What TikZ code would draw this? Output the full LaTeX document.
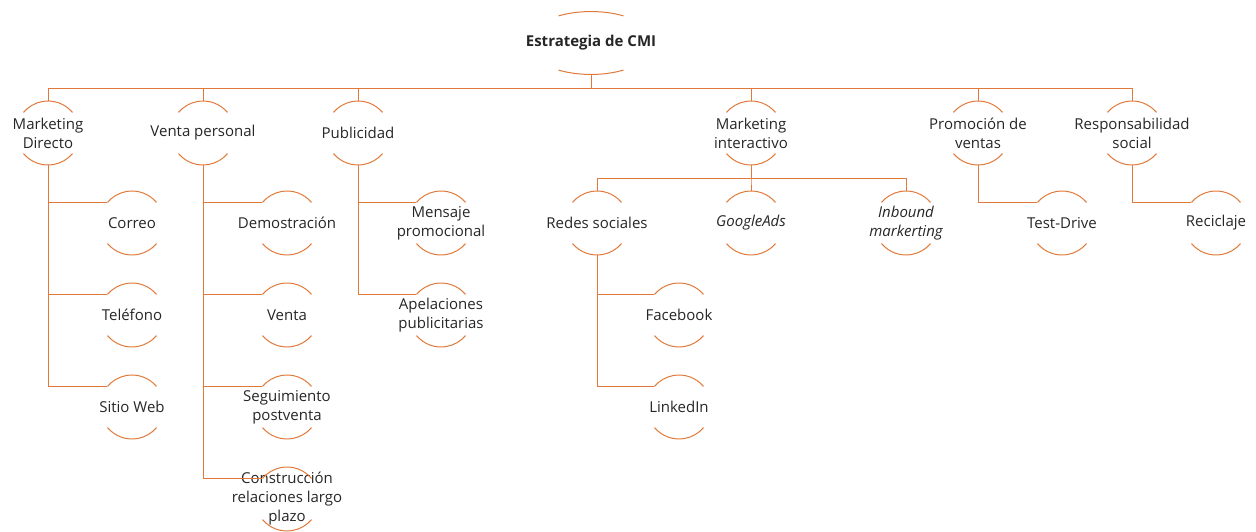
\documentclass[tikz,border=0pt]{standalone}
\usepackage{fontspec}
\setmainfont{Open Sans}
\usetikzlibrary{calc}
\definecolor{arcorange}{HTML}{E0793A}
\definecolor{txt}{HTML}{262626}
\begin{document}
\begin{tikzpicture}[x=1pt,y=1pt,
  lbl/.style={align=center,inner sep=0pt,text=txt,font=\fontsize{15}{19}\selectfont},
  rootlbl/.style={lbl,font=\fontsize{15}{19}\selectfont\bfseries},
  arcline/.style={draw=arcorange,line width=1pt},
  conn/.style={draw=arcorange,line width=1pt}]
\useasboundingbox (0,0) rectangle (1256,531);
% ---- helpers
\newcommand{\halfarcs}[1]{%
  \draw[arcline] ($(#1.center)+(40:32)$) arc[start angle=40,end angle=140,radius=32];
  \draw[arcline] ($(#1.center)+(220:32)$) arc[start angle=220,end angle=320,radius=32];}
% ---- root
\node[rootlbl] (root) at (591,488) {Estrategia de CMI};
\draw[arcline] ($(root.center)+(32.5,27.1)$) arc[start angle=59.5,end angle=120.5,x radius=64,y radius=31.5];
\draw[arcline] ($(root.center)+(-32.5,-27.1)$) arc[start angle=239.5,end angle=300.5,x radius=64,y radius=31.5];
% ---- level 1
\node[lbl] (md) at (48,398) {Marketing\\Directo};
\node[lbl] (vp) at (203,398) {Venta personal};
\node[lbl] (pub) at (358,398) {Publicidad};
\node[lbl] (mi) at (751,398) {Marketing\\interactivo};
\node[lbl] (pv) at (978,398) {Promoción de\\ventas};
\node[lbl] (rs) at (1132,398) {Responsabilidad\\social};
\foreach \n in {md,vp,pub,mi,pv,rs} {\halfarcs{\n}}
\foreach \n in {md,vp,pub,mi,pv,rs} {
  \draw[conn] ($(root.center)+(0,-31.5)$) -- ++(0,-14.5) -| ($(\n.center)+(0,32)$);}
% ---- Marketing Directo children
\node[lbl] (correo) at (132,308) {Correo};
\node[lbl] (tel) at (132,216) {Teléfono};
\node[lbl] (web) at (132,124) {Sitio Web};
% ---- Venta personal children
\node[lbl] (dem) at (287,308) {Demostración};
\node[lbl] (venta) at (287,216) {Venta};
\node[lbl] (seg) at (287,124) {Seguimiento\\postventa};
\node[lbl] (cons) at (287,32) {Construcción\\relaciones largo\\plazo};
% ---- Publicidad children
\node[lbl] (men) at (441,308) {Mensaje\\promocional};
\node[lbl] (ape) at (441,216) {Apelaciones\\publicitarias};
% ---- Marketing interactivo children
\node[lbl] (redes) at (597,308) {Redes sociales};
\node[lbl] (gads) at (751,308) {\itshape GoogleAds};
\node[lbl] (inb) at (906,308) {\itshape Inbound\\\itshape markerting};
% ---- Redes sociales children
\node[lbl] (fb) at (679,216) {Facebook};
\node[lbl] (li) at (679,124) {LinkedIn};
% ---- others
\node[lbl] (td) at (1062,308) {Test-Drive};
\node[lbl] (rec) at (1216,308) {Reciclaje};
\foreach \n in {correo,tel,web,dem,venta,seg,cons,men,ape,redes,gads,inb,fb,li,td,rec} {\halfarcs{\n}}
% ---- side connectors
\foreach \p/\c in {md/correo,md/tel,md/web,vp/dem,vp/venta,vp/seg,vp/cons,pub/men,pub/ape,redes/fb,redes/li,pv/td,rs/rec} {
  \draw[conn] ($(\p.center)+(0,-32)$) |- ($(\c.center)+(140:32)$);}
% ---- interactive sub-bus
\foreach \c in {redes,gads,inb} {
  \draw[conn] ($(mi.center)+(0,-32)$) -- ++(0,-14) -| ($(\c.center)+(0,32)$);}
\end{tikzpicture}
\end{document}
